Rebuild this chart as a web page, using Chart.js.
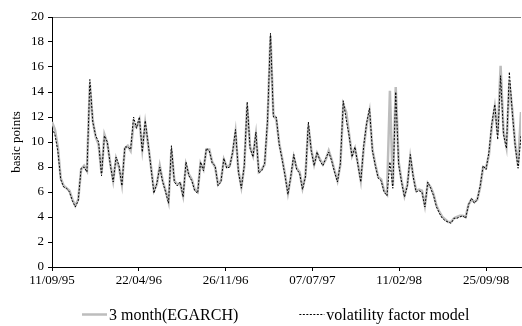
<!DOCTYPE html>
<html>
<head>
<meta charset="utf-8">
<script src="https://cdn.jsdelivr.net/npm/chart.js@4/dist/chart.umd.min.js"></script>
<style>
  html, body { margin: 0; padding: 0; background: #fff; }
  #box { width: 522px; height: 326px; }
</style>
</head>
<body>
<div id="box"><canvas id="chart" width="522" height="326"></canvas></div>
<script>
// подписи оси X (каждые ~30 отсчетов)
const tickLabels = ['11/09/95', '22/04/96', '26/11/96', '07/07/97', '11/02/98', '25/09/98'];
const seriesNames = ['3 month(EGARCH)', 'volatility factor model'];

// серая линия - 3 month(EGARCH)
const egarch = [
  11.6, 11.0, 9.6, 7.1, 6.5, 6.3, 6.1, 5.4, 4.9, 5.4, 7.8, 8.1, 7.7, 14.6, 11.7, 10.4, 9.8, 7.5, 10.6, 9.9, 8.3, 6.9, 8.7, 8.0, 6.6, 9.5, 9.7,
  9.3, 11.5, 11.2, 11.8, 9.4, 11.5, 9.8, 8.0, 6.1, 6.6, 8.1, 6.9, 6.1, 5.2, 9.4, 6.9, 6.6, 6.7, 5.7, 8.2, 7.4, 7.0, 6.2, 6.0, 8.3, 7.8, 9.4,
  9.4, 8.4, 8.0, 6.6, 6.9, 8.6, 8.0, 8.1, 9.1, 10.8, 7.7, 6.4, 8.0, 12.9, 9.6, 8.9, 10.6, 7.6, 7.8, 8.2, 11.6, 18.5, 12.2, 11.8, 9.9, 8.7, 7.4,
  5.9, 7.2, 8.8, 7.9, 7.6, 6.3, 7.3, 11.3, 9.4, 8.2, 9.1, 8.6, 8.2, 8.6, 9.3, 8.6, 7.7, 6.9, 8.2, 13.0, 12.4, 10.6, 8.9, 9.5, 8.3, 6.9, 9.5,
  11.4, 12.5, 9.4, 8.2, 7.2, 7.0, 6.1, 5.8, 14.1, 6.5, 14.4, 8.4, 6.9, 5.7, 6.6, 8.8, 7.3, 6.1, 6.2, 6.1, 4.9, 6.7, 6.4, 5.8, 4.9, 4.4,
  4.0, 3.8, 3.6, 3.6, 3.9, 4.0, 4.1, 4.1, 4.0, 5.0, 5.4, 5.2, 5.4, 6.4, 8.0, 7.9, 9.0, 11.3, 12.8, 10.6, 16.1, 10.8, 9.6, 14.8, 12.6, 9.8, 8.1, 12.4
];
// пунктир - volatility factor model
const vfm = [
  11.1, 10.6, 9.3, 7.0, 6.4, 6.3, 6.0, 5.3, 4.8, 5.3, 7.9, 8.0, 7.6, 15.0, 11.6, 10.5, 10.0, 7.3, 10.5, 10.0, 8.2, 6.8, 8.8, 8.1, 6.5, 9.6, 9.6,
  9.4, 12.0, 11.1, 12.0, 9.2, 11.7, 9.9, 7.9, 5.9, 6.7, 8.0, 6.8, 6.0, 5.1, 9.7, 6.8, 6.5, 6.8, 5.6, 8.4, 7.3, 6.9, 6.1, 5.9, 8.4, 7.7, 9.5,
  9.3, 8.3, 8.1, 6.5, 6.8, 8.7, 7.9, 8.0, 9.2, 11.0, 7.6, 6.3, 8.1, 13.2, 9.5, 8.8, 10.8, 7.5, 7.7, 8.3, 11.8, 18.7, 12.0, 12.0, 9.8, 8.6, 7.3,
  5.8, 7.3, 9.0, 7.8, 7.5, 6.2, 7.2, 11.6, 9.3, 8.1, 9.2, 8.5, 8.1, 8.7, 9.2, 8.5, 7.6, 6.8, 8.3, 13.3, 11.8, 10.5, 8.8, 9.6, 8.2, 6.8, 9.7,
  11.5, 12.7, 9.3, 8.1, 7.1, 6.9, 6.0, 5.7, 8.4, 6.3, 14.0, 8.2, 6.8, 5.6, 6.5, 9.0, 7.2, 6.0, 6.1, 6.0, 4.8, 6.8, 6.3, 5.7, 4.8, 4.3,
  3.9, 3.7, 3.6, 3.5, 3.9, 3.9, 4.0, 4.1, 3.9, 5.0, 5.5, 5.1, 5.4, 6.5, 8.1, 7.8, 9.2, 11.5, 13.0, 10.2, 15.3, 10.6, 9.5, 15.6, 12.4, 9.7, 7.9, 10.5
];

const tickEvery = 29.8; // шаг подписей в отсчетах
const serif = '"Liberation Serif", "Times New Roman", serif';

function toPoints(arr){ // индекс -> x
    return arr.map((v, i) => ({x: i, y: v}));
}

// своя легенда снизу
const bottomLegend = {
    id: 'bottomLegend',
    afterDraw(chart) {
        const ctx = chart.ctx, area = chart.chartArea;
        const lineW = 25, textGap = 2, itemGap = 61, y = 316;
        ctx.save();
        ctx.font = '16px ' + serif;
        let x = area.left + 30;
        chart.data.datasets.forEach((ds, k) => {
            ctx.beginPath();
            ctx.strokeStyle = ds.borderColor;
            ctx.lineWidth = ds.borderWidth;
            ctx.setLineDash(ds.borderDash || []);
            ctx.moveTo(x, y - 1.5);
            ctx.lineTo(x + lineW, y - 1.5);
            ctx.stroke();
            ctx.setLineDash([]);
            ctx.fillStyle = '#000';
            ctx.textBaseline = 'middle';
            ctx.fillText(seriesNames[k], x + lineW + textGap, y);
            x += lineW + textGap + ctx.measureText(seriesNames[k]).width + itemGap;
        });
        ctx.restore();
    }
};

new Chart(document.getElementById('chart').getContext('2d'), {
    type: 'line',
    data: {
        datasets: [{
            label: seriesNames[0],
            data: toPoints(egarch),
            borderColor: '#bdbdbd',
            borderWidth: 2.5,
            pointRadius: 0,
            tension: 0,
            order: 1
        }, {
            label: seriesNames[1],
            data: toPoints(vfm),
            borderColor: '#000',
            borderWidth: 1,
            borderDash: [2, 1.5],
            pointRadius: 0,
            tension: 0,
            order: 0
        }]
    },
    options: {
        responsive: false,
        animation: false,
        layout: {padding: {top: 17, right: 1, bottom: 39, left: 0}},
        plugins: {legend: {display: false}, tooltip: {enabled: false}},
        scales: {
            x: {
                type: 'linear',
                min: 0,
                max: egarch.length - 1,
                afterBuildTicks: s => { s.ticks = tickLabels.map((t, k) => ({value: k * tickEvery})); },
                afterFit: s => { s.height = 20; },
                ticks: {
                    callback: (v, k) => tickLabels[k],
                    color: '#000',
                    font: {family: serif, size: 13},
                    padding: 2,
                    maxRotation: 0,
                    autoSkip: false
                },
                grid: {drawOnChartArea: false, tickLength: 4, tickColor: '#000'},
                border: {color: '#000', width: 1}
            },
            y: {
                min: 0,
                max: 20,
                afterFit: s => { s.width = 52; },
                ticks: {stepSize: 2, color: '#000', font: {family: serif, size: 13}, padding: 4},
                grid: {
                    color: c => (c.tick && c.tick.value === 20) ? '#808080' : 'rgba(0,0,0,0)',
                    tickColor: '#000',
                    tickLength: 4
                },
                border: {color: '#000', width: 1},
                title: {display: true, text: 'basic points', color: '#000', font: {family: serif, size: 13}, padding: {top: 9, bottom: 0}}
            }
        }
    },
    plugins: [bottomLegend]
});
</script>
</body>
</html>
